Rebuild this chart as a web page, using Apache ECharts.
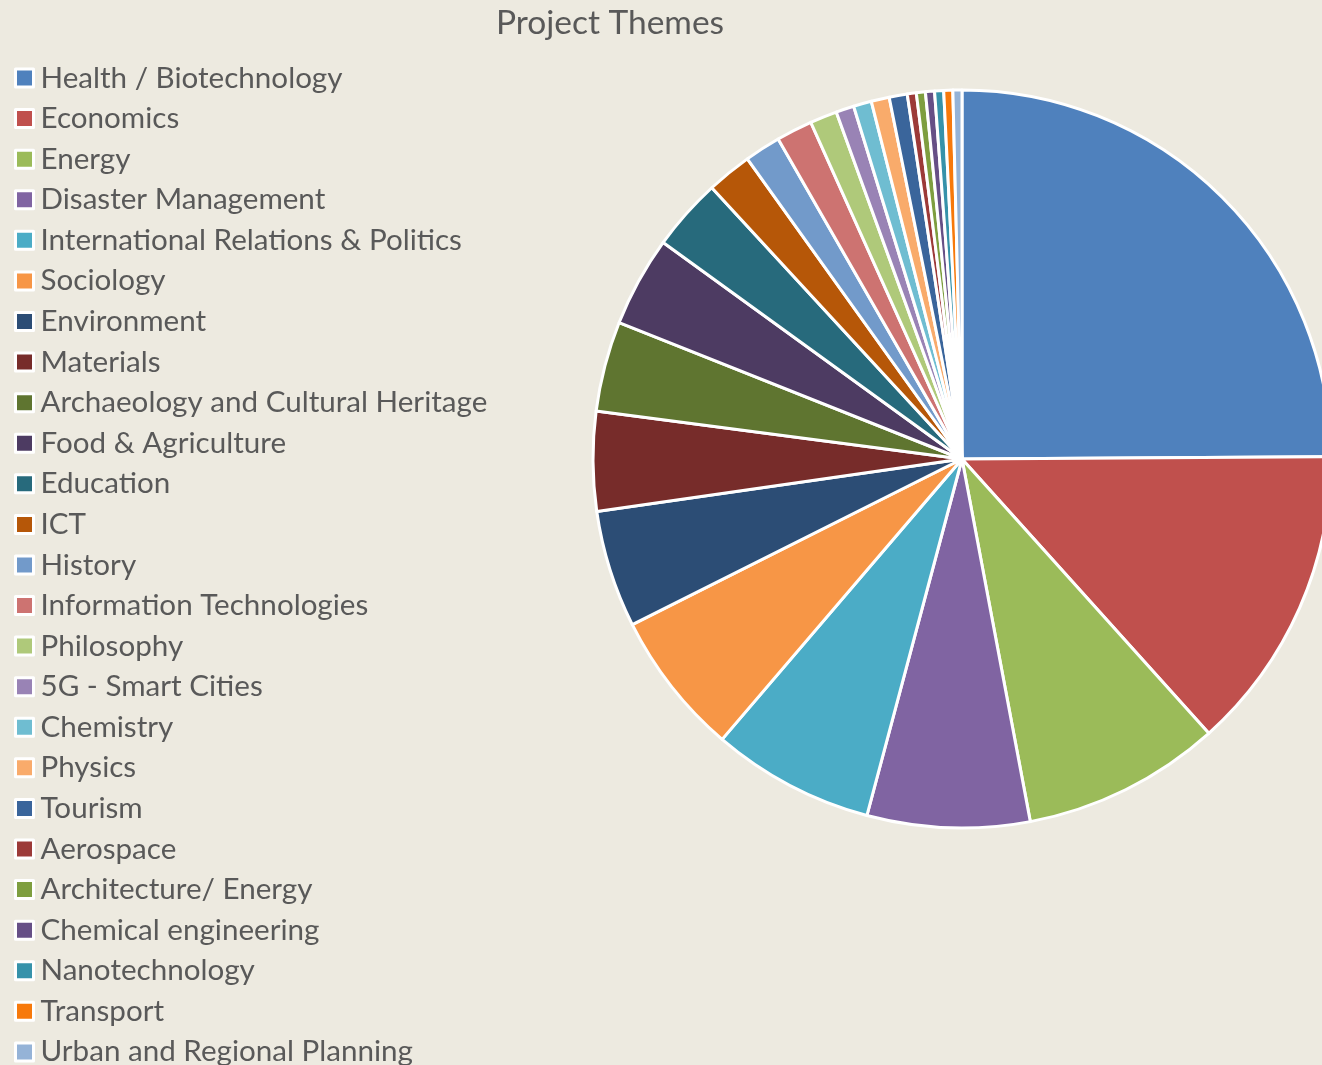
<!DOCTYPE html>
<html>
<head>
<meta charset="utf-8">
<script src="https://cdn.jsdelivr.net/npm/echarts@6/dist/echarts.min.js"></script>
<style>
html,body{margin:0;padding:0;background:#EDEAE0;}
#chart{width:1322px;height:1065px;}
</style>
</head>
<body>
<div id="chart"></div>
<script>
const categories = [
  "Health / Biotechnology", "Economics", "Energy", "Disaster Management",
  "International Relations & Politics", "Sociology", "Environment", "Materials",
  "Archaeology and Cultural Heritage", "Food & Agriculture", "Education", "ICT",
  "History", "Information Technologies", "Philosophy", "5G - Smart Cities",
  "Chemistry", "Physics", "Tourism", "Aerospace", "Architecture/ Energy",
  "Chemical engineering", "Nanotechnology", "Transport", "Urban and Regional Planning"
];
const values = [63, 34, 22, 18, 18, 16, 13, 11, 10, 10, 8, 5, 4, 4, 3, 2, 2, 2, 2, 1, 1, 1, 1, 1, 1];
const colors = [
  "#4F81BD", "#C0504D", "#9BBB59", "#8064A2", "#4BACC6", "#F79646",
  "#2C4D75", "#772C2A", "#5F7530", "#4D3B62", "#276A7C", "#B65708",
  "#729ACA", "#CD7371", "#AFC97A", "#9983B5", "#6FBDD1", "#F9AB6B",
  "#3A659B", "#9C3A38", "#7E9E3F", "#664F86", "#3692AA", "#F7790B",
  "#95B3D7"
];
const titleText = "Project Themes";

const chart = echarts.init(document.getElementById('chart'), null, {renderer: 'canvas'});
const FONT = 'Lato';
chart.setOption({
  backgroundColor: '#EDEAE0',
  animation: false,
  color: colors,
  graphic: [{
    type: 'text',
    x: 610, y: 23,
    style: {
      text: titleText,
      fill: '#595959',
      font: 'normal 33.5px ' + FONT,
      textAlign: 'center',
      textVerticalAlign: 'middle'
    }
  }],
  legend: {
    orient: 'vertical',
    left: 9,
    top: 58,
    height: 1200,
    itemWidth: 18,
    itemHeight: 18,
    itemGap: 10.58,
    icon: 'rect',
    selectedMode: false,
    itemStyle: { borderColor: '#ffffff', borderWidth: 3 },
    textStyle: {
      fontFamily: FONT,
      fontSize: 29.6,
      color: '#595959',
      padding: [0, 0, 0, 2]
    },
    data: categories
  },
  series: [{
    type: 'pie',
    center: [962, 459],
    radius: 369,
    startAngle: 90,
    clockwise: true,
    label: { show: false },
    labelLine: { show: false },
    emphasis: { disabled: true },
    itemStyle: { borderColor: '#ffffff', borderWidth: 3 },
    data: categories.map((c, i) => ({ name: c, value: values[i] }))
  }]
});
</script>
</body>
</html>
